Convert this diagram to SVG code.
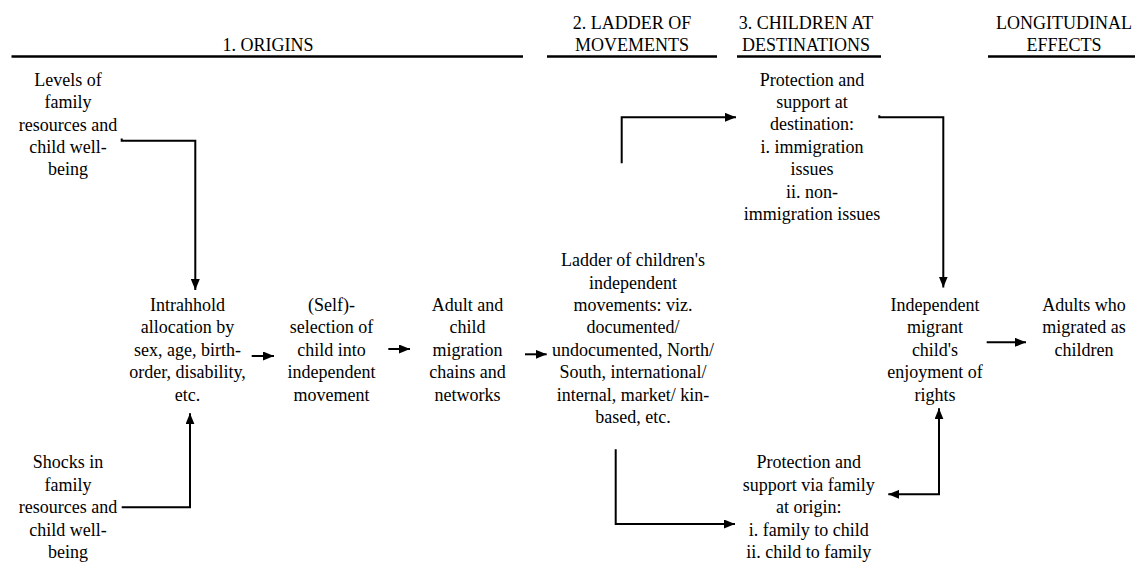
<svg xmlns="http://www.w3.org/2000/svg" width="1135" height="564" viewBox="0 0 1135 564" font-family="'Liberation Serif', 'Times New Roman', Times, serif">
<style>
text{font-family:'Liberation Serif','Times New Roman',Times,serif;font-size:18px;fill:#000;text-anchor:middle}
.hl{stroke:#000;stroke-width:2.6;fill:none}
.c{stroke:#000;stroke-width:2;fill:none;marker-end:url(#ah)}
</style>
<defs>
<marker id="ah" markerUnits="userSpaceOnUse" markerWidth="11" markerHeight="9" refX="11" refY="4.5" orient="auto-start-reverse">
<path d="M0,0 L11,4.5 L0,9 z" fill="#000"/>
</marker>
</defs>
<rect width="1135" height="564" fill="#fff"/>
<g id="headers">
<text x="268" y="51">1. ORIGINS</text>
<text><tspan x="632" y="28.5">2. LADDER OF</tspan><tspan x="632" y="51">MOVEMENTS</tspan></text>
<text><tspan x="806" y="28.5">3. CHILDREN AT</tspan><tspan x="806" y="51">DESTINATIONS</tspan></text>
<text><tspan x="1064" y="28.5">LONGITUDINAL</tspan><tspan x="1064" y="51">EFFECTS</tspan></text>
<path class="hl" d="M11.5,56.5H523M547,56.5H717M737,56.5H881M988,56.5H1135"/>
</g>
<g id="levels"><text><tspan x="68" y="85.7">Levels of</tspan><tspan x="68" y="108.1">family</tspan><tspan x="68" y="130.5">resources and</tspan><tspan x="68" y="152.9">child well-</tspan><tspan x="68" y="175.3">being</tspan></text></g>
<g id="shocks"><text><tspan x="68" y="468.3">Shocks in</tspan><tspan x="68" y="490.7">family</tspan><tspan x="68" y="513.1">resources and</tspan><tspan x="68" y="535.5">child well-</tspan><tspan x="68" y="557.9">being</tspan></text></g>
<g id="intrahhold"><text><tspan x="187.5" y="311">Intrahhold</tspan><tspan x="187.5" y="333.4">allocation by</tspan><tspan x="187.5" y="355.8">sex, age, birth-</tspan><tspan x="187.5" y="378.2">order, disability,</tspan><tspan x="187.5" y="400.6">etc.</tspan></text></g>
<g id="selection"><text><tspan x="331.5" y="311">(Self)-</tspan><tspan x="331.5" y="333.4">selection of</tspan><tspan x="331.5" y="355.8">child into</tspan><tspan x="331.5" y="378.2">independent</tspan><tspan x="331.5" y="400.6">movement</tspan></text></g>
<g id="chains"><text><tspan x="467.5" y="311">Adult and</tspan><tspan x="467.5" y="333.4">child</tspan><tspan x="467.5" y="355.8">migration</tspan><tspan x="467.5" y="378.2">chains and</tspan><tspan x="467.5" y="400.6">networks</tspan></text></g>
<g id="ladder"><text><tspan x="633" y="266.2">Ladder of children's</tspan><tspan x="633" y="288.6">independent</tspan><tspan x="633" y="311">movements: viz.</tspan><tspan x="633" y="333.4">documented/</tspan><tspan x="633" y="355.8">undocumented, North/</tspan><tspan x="633" y="378.2">South, international/</tspan><tspan x="633" y="400.6">internal, market/ kin-</tspan><tspan x="633" y="423">based, etc.</tspan></text></g>
<g id="dest"><text><tspan x="812" y="85.5">Protection and</tspan><tspan x="812" y="107.9">support at</tspan><tspan x="812" y="130.3">destination:</tspan><tspan x="812" y="152.7">i. immigration</tspan><tspan x="812" y="175.1">issues</tspan><tspan x="812" y="197.5">ii. non-</tspan><tspan x="812" y="219.9">immigration issues</tspan></text></g>
<g id="origin-support"><text><tspan x="808.7" y="468.3">Protection and</tspan><tspan x="808.7" y="490.7">support via family</tspan><tspan x="808.7" y="513.1">at origin:</tspan><tspan x="808.7" y="535.5">i. family to child</tspan><tspan x="808.7" y="557.9">ii. child to family</tspan></text></g>
<g id="rights"><text><tspan x="935" y="311">Independent</tspan><tspan x="935" y="333.4">migrant</tspan><tspan x="935" y="355.8">child's</tspan><tspan x="935" y="378.2">enjoyment of</tspan><tspan x="935" y="400.6">rights</tspan></text></g>
<g id="adults"><text><tspan x="1084" y="311">Adults who</tspan><tspan x="1084" y="333.4">migrated as</tspan><tspan x="1084" y="355.8">children</tspan></text></g>
<g id="connectors">
<path class="c" d="M121.7,138.6V140.7H195.3V290"/>
<path class="c" d="M121.7,507.3H190V413.3"/>
<path class="c" d="M251.7,356H274"/>
<path class="c" d="M388.3,349H410"/>
<path class="c" d="M525,354.3H546.7"/>
<path class="c" d="M621.7,163.3V117.3H736"/>
<path class="c" d="M615.7,449.3V524H735"/>
<path class="c" d="M879.3,115.2V117.3H943.3V287.5"/>
<path class="c" d="M986.7,342.3H1026"/>
<path class="c" style="marker-start:url(#ah)" d="M888.3,494.3H939V408.3"/>
</g>
</svg>
